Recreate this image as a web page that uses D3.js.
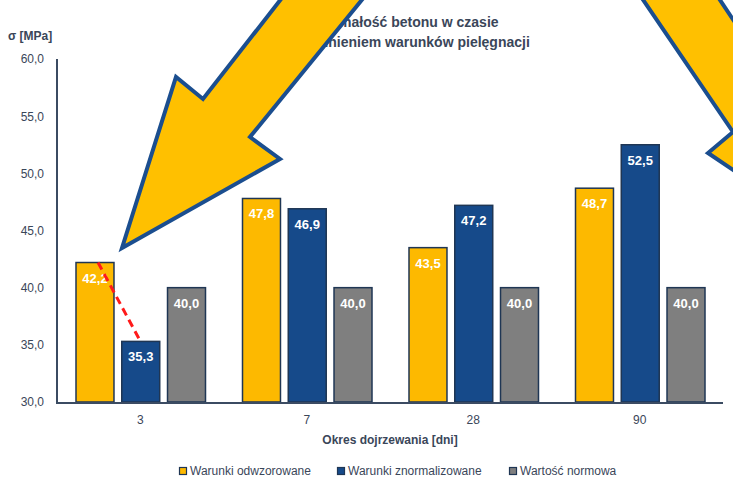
<!DOCTYPE html>
<html>
<head>
<meta charset="utf-8">
<script src="https://cdn.jsdelivr.net/npm/d3@7"></script>
<style>
  html, body { margin: 0; padding: 0; background: #fff; }
  svg { display: block; font-family: "Liberation Sans", Arial, sans-serif; }
</style>
</head>
<body>
<svg id="chart" width="733" height="481"></svg>
<script>
// Curing ages (days) and compressive strength per curing regime [MPa]
const categories = ["3", "7", "28", "90"];
const seriesNames = ["Warunki odwzorowane", "Warunki znormalizowane", "Wartość normowa"];
const odwzorowane = [42.2, 47.8, 43.5, 48.7];
const znormalizowane = [35.3, 46.9, 47.2, 52.5];
const normowa = [40.0, 40.0, 40.0, 40.0];
const yTicks = [30, 35, 40, 45, 50, 55, 60];
const titleLines = ["Wytrzymałość betonu w czasie", "z uwzględnieniem warunków pielęgnacji"];

const seriesValues = [odwzorowane, znormalizowane, normowa];
const colors = ["#FDB900", "#164A8A", "#7F7F7F"];
const ink = "#3a4659";

const svg = d3.select("#chart");
const plot = { left: 57, right: 723, top: 59, bottom: 402 };

const x0 = d3.scaleBand().domain(categories).range([plot.left, plot.right]).paddingInner(0).paddingOuter(0);
const x1 = d3.scaleBand().domain(d3.range(seriesNames.length)).range([19, x0.bandwidth() - 18]).paddingInner(0.17);
const y = d3.scaleLinear().domain([30, 60]).range([plot.bottom, plot.top]);

const fmt = v => d3.format(".1f")(v).replace(".", ",");

// Title
const title = svg.append("g").attr("fill", ink).attr("font-weight", "bold").attr("font-size", 14);
title.append("text").attr("x", 396).attr("y", 27).attr("text-anchor", "middle").text(titleLines[0]);
title.append("text").attr("x", 396).attr("y", 47).attr("text-anchor", "middle").text(titleLines[1]);

// Y axis title
svg.append("text").attr("x", 8).attr("y", 40).attr("fill", ink)
  .attr("font-weight", "bold").attr("font-size", 12).text("σ [MPa]");

// Y axis
const yAxis = d3.axisLeft(y).tickValues(yTicks).tickFormat(fmt).tickSize(0).tickPadding(13);
const gy = svg.append("g").attr("transform", `translate(${plot.left},0)`).call(yAxis);
gy.select(".domain").remove();
gy.selectAll("text").attr("fill", ink).attr("font-size", 12)
  .attr("font-family", "'Liberation Sans', Arial, sans-serif");

// Bars
const groups = svg.append("g").selectAll("g").data(categories).join("g")
  .attr("transform", d => `translate(${x0(d)},0)`);

groups.each(function(cat, ci) {
  const g = d3.select(this);
  seriesValues.forEach((vals, si) => {
    const v = vals[ci];
    g.append("rect")
      .attr("x", x1(si)).attr("y", y(v))
      .attr("width", x1.bandwidth()).attr("height", y(30) - y(v))
      .attr("fill", colors[si]).attr("stroke", "#1f3654").attr("stroke-width", 1.5);
    g.append("text")
      .attr("x", x1(si) + x1.bandwidth() / 2).attr("y", y(v) + 20)
      .attr("text-anchor", "middle").attr("fill", "#fff")
      .attr("font-weight", "bold").attr("font-size", 13).text(fmt(v));
  });
});

// Axis lines
svg.append("line").attr("x1", plot.left).attr("x2", plot.left)
  .attr("y1", plot.top).attr("y2", plot.bottom + 1)
  .attr("stroke", "#3b4b62").attr("stroke-width", 2);
svg.append("line").attr("x1", plot.left - 1).attr("x2", plot.right)
  .attr("y1", plot.bottom + 1).attr("y2", plot.bottom + 1)
  .attr("stroke", "#3b4b62").attr("stroke-width", 2);

// X axis labels
const xAxis = d3.axisBottom(x0).tickSize(0).tickPadding(12);
const gx = svg.append("g").attr("transform", `translate(0,${plot.bottom + 1})`).call(xAxis);
gx.select(".domain").remove();
gx.selectAll("text").attr("fill", ink).attr("font-size", 12)
  .attr("font-family", "'Liberation Sans', Arial, sans-serif");

svg.append("text").attr("x", (plot.left + plot.right) / 2).attr("y", 444)
  .attr("text-anchor", "middle").attr("fill", ink)
  .attr("font-weight", "bold").attr("font-size", 12).text("Okres dojrzewania [dni]");

// Legend
const legendX = [179, 337, 509];
const legend = svg.append("g").selectAll("g").data(seriesNames).join("g")
  .attr("transform", (d, i) => `translate(${legendX[i]},467)`);
legend.append("rect").attr("x", 0.5).attr("y", 0.5).attr("width", 7).attr("height", 7)
  .attr("fill", (d, i) => colors[i]).attr("stroke", "#1f3654").attr("stroke-width", 1.2);
legend.append("text").attr("x", 11).attr("y", 8).attr("fill", ink).attr("font-size", 12).text(d => d);

// Dashed drop line between the two 3-day results
const c0 = categories[0];
svg.append("line")
  .attr("x1", x0(c0) + x1(0) + x1.bandwidth() * 0.58).attr("y1", y(odwzorowane[0]))
  .attr("x2", x0(c0) + x1(1) + x1.bandwidth() * 0.45).attr("y2", y(znormalizowane[0]) - 3)
  .attr("stroke", "#FF1A1A").attr("stroke-width", 3).attr("stroke-dasharray", "8,5");

// Highlight arrows
const arrowStyle = sel => sel.attr("fill", "#FFC000").attr("stroke", "#1B4E8F")
  .attr("stroke-width", 4).attr("stroke-linejoin", "miter");
const leftArrow = [[292, -15], [203, 99], [176, 77], [122, 248], [280, 159], [250, 137], [374, -15]];
const rightArrow = [[633, -15], [733, 132], [708, 153], [800, 215], [830, 120], [760, 60], [710, -15]];
svg.append("polygon").attr("points", leftArrow.map(p => p.join(",")).join(" ")).call(arrowStyle);
svg.append("polygon").attr("points", rightArrow.map(p => p.join(",")).join(" ")).call(arrowStyle);
</script>
</body>
</html>
